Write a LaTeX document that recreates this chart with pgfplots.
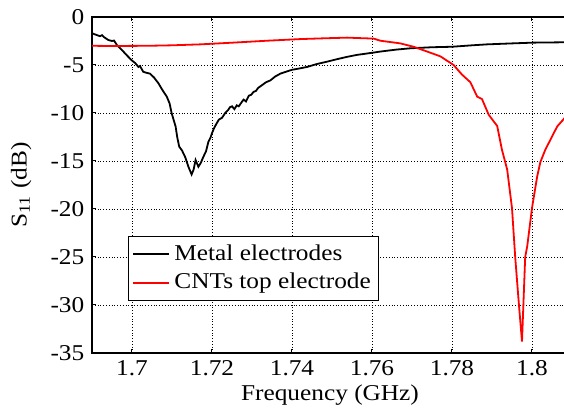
\documentclass[border=0pt]{standalone}
\usepackage{fontspec}
\setmainfont[FakeStretch=1.12]{Liberation Serif}
\usepackage{pgfplots}
\pgfplotsset{compat=1.18}
\begin{document}
\fontsize{11}{13}\selectfont
\begin{tikzpicture}
\begin{axis}[
  scale only axis,
  width=238pt, height=168pt,
  xmin=1.69, xmax=1.809,
  ymin=-35, ymax=0,
  xtick={1.7,1.72,1.74,1.76,1.78,1.8},
  xticklabels={1.7,1.72,1.74,1.76,1.78,1.8},
  ytick={-35,-30,-25,-20,-15,-10,-5,0},
  yticklabels={-35,-30,-25,-20,-15,-10,-5,0},
  tick align=inside,
  major tick length=2pt,
  tick style={black, line width=0.5pt},
  grid=major,
  major grid style={black, densely dotted, line width=0.45pt},
  axis line style={black, line width=0.7pt},
  ticklabel style={font=\fontsize{11.3}{13}\selectfont},
  label style={font=\fontsize{11.3}{13}\selectfont},
  xlabel={Frequency (GHz)},
  ylabel={S\textsubscript{11} (dB)},
  xlabel style={yshift=3pt},
  ylabel style={yshift=2pt},
  legend style={at={(rel axis cs:0.0756,0.349)}, anchor=north west,
    draw=black, line width=0.6pt, fill=white,
    font=\fontsize{11.3}{13}\selectfont, cells={anchor=west},
    inner sep=2pt, row sep=1pt},
  legend image code/.code={\draw[#1] (0pt,0pt) -- (18pt,0pt);},
]
\addplot[black, line width=0.9pt] coordinates {
(1.6900,-1.7) (1.6910,-1.85) (1.6920,-2.0) (1.6925,-1.9) (1.6930,-2.1) (1.6941,-2.4) (1.6950,-2.5) (1.6955,-2.45) (1.6962,-2.9) (1.6974,-3.4)
(1.6985,-3.9) (1.6999,-4.5) (1.7008,-4.8) (1.7016,-5.2) (1.7020,-5.1) (1.7028,-5.7) (1.7035,-5.8) (1.7045,-5.9)
(1.7055,-6.3) (1.7066,-6.9) (1.7076,-7.6) (1.7087,-8.3) (1.7094,-9.0) (1.7099,-10.0) (1.7109,-11.4)
(1.7113,-12.5) (1.7118,-13.5) (1.7125,-13.9) (1.7133,-14.6) (1.7141,-15.6) (1.7149,-16.4) (1.7154,-15.9)
(1.7159,-14.9) (1.7166,-15.6) (1.7172,-15.2) (1.7178,-14.6) (1.7185,-14.0) (1.7191,-13.0) (1.7196,-12.6)
(1.7200,-12.1) (1.7205,-11.6) (1.7210,-11.2) (1.7217,-10.7) (1.7225,-10.5) (1.7233,-10.0) (1.7240,-9.7)
(1.7245,-9.4) (1.7250,-9.3) (1.7256,-9.6) (1.7262,-9.2) (1.7267,-9.3) (1.7272,-9.0) (1.7279,-8.6)
(1.7285,-8.8) (1.7292,-8.2) (1.7298,-8.1) (1.7304,-7.8) (1.7310,-7.7) (1.7315,-7.4) (1.7325,-7.1) (1.7335,-6.8) (1.7346,-6.6)
(1.7358,-6.2) (1.7371,-5.9) (1.7385,-5.7) (1.7400,-5.5) (1.7420,-5.35) (1.7438,-5.2) (1.7462,-4.9)
(1.7488,-4.65) (1.7512,-4.4) (1.7538,-4.15) (1.7562,-3.95) (1.7588,-3.8) (1.7621,-3.6) (1.7660,-3.4)
(1.7696,-3.26) (1.7750,-3.15) (1.7800,-3.1) (1.7850,-2.95) (1.7888,-2.85) (1.7950,-2.75) (1.8004,-2.67)
(1.8090,-2.63)
};
\addlegendentry{Metal electrodes}
\addplot[red, line width=0.9pt] coordinates {
(1.6900,-3.0) (1.6950,-3.02) (1.7038,-3.0) (1.7100,-2.95) (1.7171,-2.85) (1.7253,-2.67) (1.7338,-2.47)
(1.7421,-2.3) (1.7480,-2.22) (1.7538,-2.15) (1.7570,-2.2) (1.7604,-2.25) (1.7621,-2.47)
(1.7671,-2.75) (1.7704,-3.1) (1.7738,-3.6) (1.7771,-4.1) (1.7804,-5.0) (1.7825,-6.0) (1.7846,-6.8)
(1.7863,-8.3) (1.7875,-8.55) (1.7892,-10.2) (1.7913,-11.35) (1.7925,-13.85) (1.7938,-15.9)
(1.7950,-19.9) (1.7958,-25.0) (1.7967,-29.8) (1.7975,-33.8) (1.7983,-25.0) (1.7988,-23.9)
(1.8000,-19.9) (1.8013,-16.6) (1.8021,-15.1) (1.8033,-13.85) (1.8063,-11.4) (1.8081,-10.55) (1.8090,-10.3)
};
\addlegendentry{CNTs top electrode}
\end{axis}
\pgfresetboundingbox
\path ([shift={(-46pt,-29.5pt)}]current axis.south west) rectangle ([shift={(236pt,176.5pt)}]current axis.south west);
\end{tikzpicture}
\end{document}
